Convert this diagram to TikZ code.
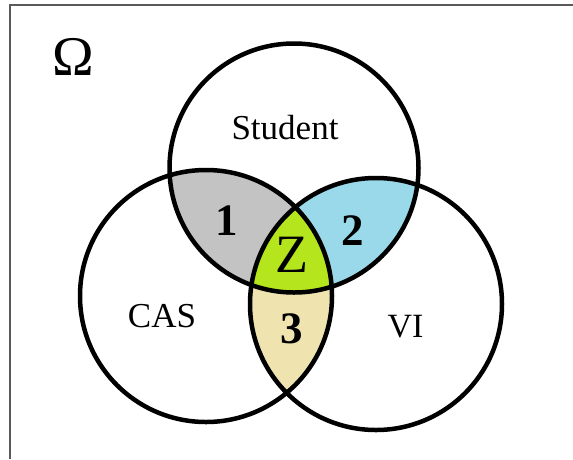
\documentclass[tikz,border=0pt]{standalone}
\usepackage{fontspec}
\setmainfont{Liberation Serif}
\definecolor{cgray}{HTML}{C3C3C3}
\definecolor{cblue}{HTML}{99D9EA}
\definecolor{clime}{HTML}{B5E61D}
\definecolor{ctan}{HTML}{EFE4B0}
\definecolor{cframe}{HTML}{5A5A5A}
\tikzset{
  setline/.style={line width=4.5pt, black},
  lbl/.style={inner sep=0pt, anchor=base, font=\fontsize{35}{40}\selectfont},
  num/.style={inner sep=0pt, anchor=base, font=\fontsize{45}{50}\selectfont\bfseries},
}
\begin{document}
\begin{tikzpicture}[x=1pt,y=-1pt]
\useasboundingbox (0,0) rectangle (573,459);
\fill[white] (0,0) rectangle (573,459);
% frame
\draw[cframe, line width=2pt] (10,459) -- (10,5) -- (573,5);
% centres
\coordinate (S) at (294,168);
\coordinate (C) at (206,296);
\coordinate (V) at (376,304);
\def\rS{124.5}
\def\rC{126}
\def\rV{126}
% pairwise fills
\begin{scope}
  \clip (S) circle[radius=\rS];
  \fill[cgray] (C) circle[radius=\rC];
\end{scope}
\begin{scope}
  \clip (S) circle[radius=\rS];
  \fill[cblue] (V) circle[radius=\rV];
\end{scope}
\begin{scope}
  \clip (C) circle[radius=\rC];
  \fill[ctan] (V) circle[radius=\rV];
\end{scope}
\begin{scope}
  \clip (S) circle[radius=\rS];
  \clip (C) circle[radius=\rC];
  \fill[clime] (V) circle[radius=\rV];
\end{scope}
% circles
\draw[setline] (S) circle[radius=\rS];
\draw[setline] (C) circle[radius=\rC];
\draw[setline] (V) circle[radius=\rV];
% labels
\node[inner sep=0pt, anchor=base, font=\fontsize{56}{60}\selectfont] (omega) at (73.5,75) {Ω};
\node[lbl] (student) at (285,139) {Student};
\node[lbl] (cas) at (162,327) {CAS};
\node[lbl, font=\fontsize{34}{40}\selectfont] (vi) at (405.5,337) {VI};
\node[num] (one) at (227,235) {1};
\node[num] (two) at (352.5,245) {2};
\node[num] (three) at (291.5,343) {3};
\node[inner sep=0pt, anchor=base, font=\fontsize{54}{60}\selectfont] (z) at (291.5,272) {Z};
\end{tikzpicture}
\end{document}
